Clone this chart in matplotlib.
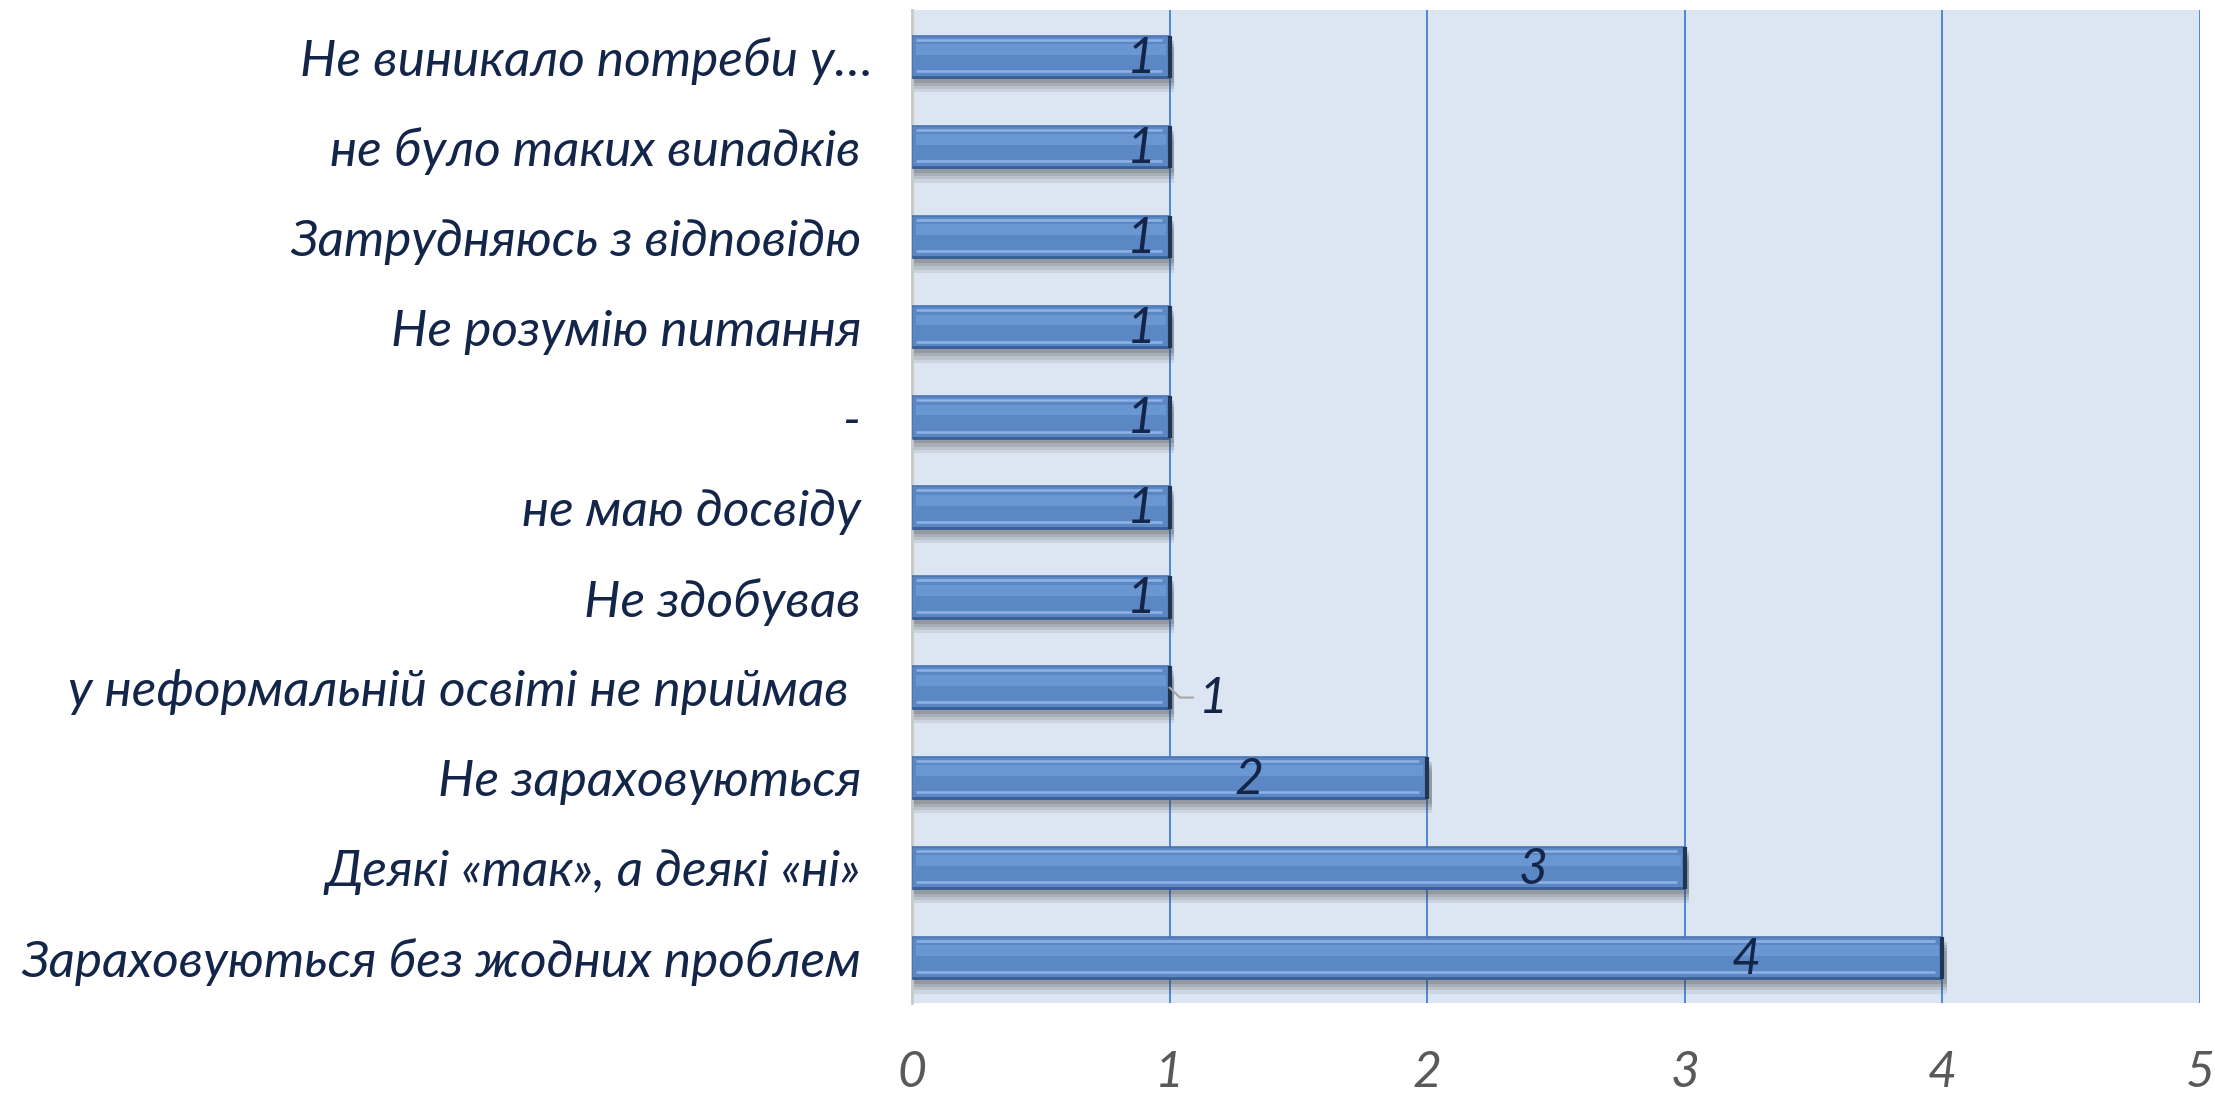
import numpy as np
import matplotlib
matplotlib.use("Agg")
import matplotlib.pyplot as plt

# categories top to bottom, as in the chart
categories = [
    "Не виникало потреби у…",
    "не було таких випадків ",
    "Затрудняюсь з відповідю ",
    "Не розумію питання ",
    "- ",
    "не маю досвіду ",
    "Не здобував ",
    "у неформальній освіті не приймав  ",
    "Не зараховуються ",
    "Деякі «так», а деякі «ні» ",
    "Зараховуються без жодних проблем ",
]
values = [1, 1, 1, 1, 1, 1, 1, 1, 2, 3, 4]
x_ticks = [0, 1, 2, 3, 4, 5]

# where Excel put each data label (x in axis units)
label_x = [0.89, 0.89, 0.89, 0.89, 0.89, 0.89, 0.89, 1.17, 1.31, 2.41, 3.24]

plt.rcParams['font.family'] = ['Lato', 'DejaVu Sans']

fig = plt.figure(figsize=(22.15, 10.93), dpi=100)
ax = fig.add_axes([912 / 2215, 90 / 1093, 1288 / 2215, 993 / 1093])
ax.set_facecolor("#dce6f2")

y = np.arange(len(categories))
h = 0.47

# soft shadow under each bar
for k, a in enumerate([0.10, 0.12, 0.15, 0.18]):
    off = 0.16 - k * 0.035
    ax.barh(y + off, np.array(values) + 0.012, height=h, left=0.005,
            color="#404040", alpha=a, linewidth=0, zorder=2)

ax.barh(y, values, height=h, color="#5b87c4", edgecolor="#4a74b0",
        linewidth=1.2, zorder=3)
# glossy inner strips
ax.barh(y - 0.08, np.array(values) - 0.03, height=0.12, left=0.015,
        color="#6a96d2", linewidth=0, zorder=3.5)
ax.hlines(y - 0.19, 0.015, np.array(values) - 0.03, color="#8fb2e6", lw=1.8, zorder=4)
ax.hlines(y + 0.16, 0.015, np.array(values) - 0.03, color="#8fb2e6", lw=1.8, zorder=4)
ax.hlines(y + h / 2 - 0.01, 0.0, values, color="#3a5f96", lw=2, zorder=4)
ax.vlines(values, y - h / 2, y + h / 2, color="#1f3555", lw=3, zorder=4)

for i, v in enumerate(values):
    if label_x[i] > v:
        ax.plot([v, v + 0.04, v + 0.09], [y[i], y[i] + 0.11, y[i] + 0.11],
                color="#a6a6a6", lw=1.5, zorder=5)
        ax.text(label_x[i], y[i] + 0.13, str(v), ha="center", va="center",
                fontsize=36, style="italic", color="#13264a", zorder=6)
    else:
        ax.text(label_x[i], y[i] + 0.02, str(v), ha="center", va="center",
                fontsize=36, style="italic", color="#13264a", zorder=6)

ax.set_xlim(0, 5)
ax.set_ylim(len(categories) - 0.5, -0.52)
ax.set_xticks(x_ticks)
ax.set_xticklabels([str(t) for t in x_ticks], fontsize=36, style="italic",
                   color="#595959")
ax.set_yticks(y)
ax.set_yticklabels(categories, fontsize=37, style="italic", color="#13264a")
ax.tick_params(axis="x", length=0, pad=34)
ax.tick_params(axis="y", length=0, pad=28)

ax.grid(axis="x", color="#4f87d6", lw=1.4, zorder=1)
ax.set_axisbelow(True)
for s in ["top", "right", "bottom"]:
    ax.spines[s].set_visible(False)
ax.spines["left"].set_color("#c8c8c8")
ax.spines["left"].set_linewidth(2)

fig.savefig("out.png", dpi=100)
